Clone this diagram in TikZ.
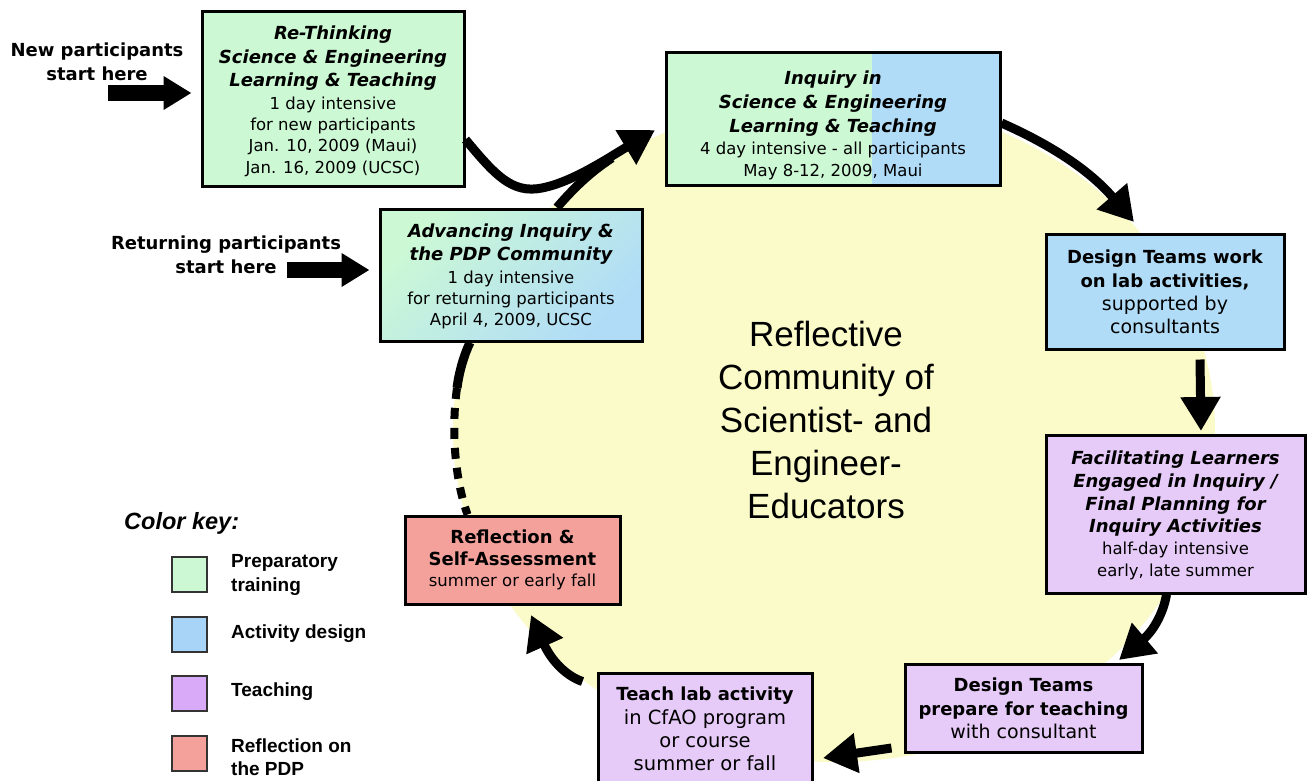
\documentclass[tikz,border=0pt]{standalone}
\usepackage{fontspec}
\setmainfont{Liberation Sans}
\newfontfamily\bxf{DejaVu Sans}
\usetikzlibrary{arrows.meta}
\definecolor{kgreen}{HTML}{CCF9D4}
\definecolor{kblue}{HTML}{B0DCF8}
\definecolor{kpurple}{HTML}{E6CAF8}
\definecolor{kred}{HTML}{F4A19C}
\definecolor{kyellow}{HTML}{FAFBC8}
\definecolor{lgreen}{HTML}{CCF9D4}
\definecolor{lblue}{HTML}{A8D4F8}
\definecolor{lpurple}{HTML}{D8AAF8}
\definecolor{lred}{HTML}{F4A19C}
\newcommand{\hd}[1]{{\bfseries\itshape\fontsize{18}{23}\selectfont #1}}
\newcommand{\hb}[1]{{\bfseries\fontsize{18}{23}\selectfont #1}}
\begin{document}
\begin{tikzpicture}[x=1pt,y=-1pt,
  box/.style={draw=black, line width=3pt, inner sep=0pt, align=center,
    font=\bxf\fontsize{16.5}{21.3}\selectfont},
  bigtxt/.style={font=\bxf\fontsize{19}{23}\selectfont},
  flow/.style={line width=9pt, -{Triangle[length=34pt,width=38pt]}},
  plainflow/.style={line width=9pt},
  dashflow/.style={line width=8pt, dash pattern=on 11pt off 9pt},
  blockarrow/.style={line width=16pt, -{Triangle[length=28pt,width=32pt]}},
  startlbl/.style={font=\bxf\bfseries\fontsize{18}{24}\selectfont, align=center},
  keysq/.style={draw=black!80, line width=2pt, minimum size=35pt, inner sep=0pt},
  keytxt/.style={font=\bfseries\fontsize{19}{23.5}\selectfont, align=left, anchor=west, inner sep=0pt},
]
\clip (0,0) rectangle (1307,780);
\fill[white] (0,0) rectangle (1307,780);
% background community circle
\fill[kyellow] (834,430) ellipse [x radius=381pt, y radius=332pt];
\node[font=\fontsize{35}{43}\selectfont, align=center] (ctr) at (826,420)
  {Reflective\\Community of\\Scientist- and\\Engineer-\\Educators};

% boxes
\node[box, fill=kgreen, minimum width=262pt, minimum height=175pt] (rt) at (333,98.5)
  {\rule{0pt}{19pt}\hd{Re-Thinking}\\[2.5pt]\hd{Science \& Engineering}\\[2pt]\hd{Learning \& Teaching}\\[1.5pt]
   1 day intensive\\for new participants\\Jan. 10, 2009 (Maui)\\Jan. 16, 2009 (UCSC)};
\node[box, minimum width=334pt, minimum height=133pt,
  path picture={\fill[kgreen] (path picture bounding box.south west) rectangle ([xshift=39pt]path picture bounding box.north);
                \fill[kblue] ([xshift=39pt]path picture bounding box.south) rectangle (path picture bounding box.north east);}]
  (inq) at (833,118.5)
  {\rule{0pt}{27pt}\hd{Inquiry in}\\[2.5pt]\hd{Science \& Engineering}\\[2.5pt]\hd{Learning \& Teaching}\\[1.5pt]
   4 day intensive - all participants\\May 8-12, 2009, Maui};
\node[box, top color=kgreen, bottom color=kblue, shading angle=45,
  minimum width=262pt, minimum height=132pt] (adv) at (511,275)
  {\rule{0pt}{17pt}\hd{Advancing Inquiry \&}\\[2pt]\hd{the PDP Community}\\[1pt]
   1 day intensive\\for returning participants\\April 4, 2009, UCSC};
\node[box, fill=kblue, minimum width=238pt, minimum height=115pt, bigtxt] (dtw) at (1165,291.5)
  {\hb{Design Teams work}\\[1pt]\hb{on lab activities,}\\supported by\\consultants};
\node[box, fill=kpurple, minimum width=259pt, minimum height=158pt] (fac) at (1175.5,514)
  {\rule{0pt}{16pt}\hd{Facilitating Learners}\\[1.5pt]\hd{Engaged in Inquiry /}\\[1.5pt]\hd{Final Planning for}\\[1.5pt]\hd{Inquiry Activities}\\[0.5pt]
   half-day intensive\\early, late summer};
\node[box, fill=kpurple, minimum width=237pt, minimum height=88pt, bigtxt] (dtp) at (1023.5,708)
  {\hb{Design Teams}\\[1pt]\hb{prepare for teaching}\\with consultant};
\node[box, fill=kpurple, minimum width=214pt, minimum height=112pt, font=\bxf\fontsize{19.5}{23}\selectfont] (tch) at (705,729)
  {\hb{Teach lab activity}\\[1.5pt]in CfAO program\\or course\\summer or fall};
\node[box, fill=kred, minimum width=215pt, minimum height=88pt] (rfl) at (512.5,560)
  {\hb{Reflection \&}\\[1pt]\hb{Self-Assessment}\\summer or early fall};

% cycle connectors
\coordinate (t1) at (655,130);
\draw[flow] ([yshift=-41pt]rt.east) .. controls (495,175) and (512,194) .. (542,188)
   .. controls (572,182) and (605,160) .. (t1);
\coordinate (m1) at (612,158);
\draw[plainflow] ([xshift=46pt]adv.north) .. controls (572,190) and (590,172) .. (m1);
\coordinate (t2) at (1134,222);
\draw[flow] ([yshift=-4.5pt]inq.east) .. controls (1040,140) and (1085,165) .. (t2);
\coordinate (t3) at (1201,431);
\draw[flow] ([xshift=35pt,yshift=-9pt]dtw.south) -- (t3);
\coordinate (t4) at (1119,660);
\draw[flow] ([xshift=-9pt]fac.south) .. controls (1163,615) and (1152,632) .. (t4);
\coordinate (t5) at (823,758);
\draw[flow] ([xshift=-12pt,yshift=-40pt]dtp.west) -- (t5);
\coordinate (t6) at (531,615);
\draw[flow] ([xshift=-14pt,yshift=-10pt]tch.north west) .. controls (566,676) and (551,660) .. (t6);
\coordinate (j7) at (457,388);
\draw[plainflow] ([xshift=-41pt]adv.south) .. controls (464,355) and (459,372) .. (j7);
\draw[dashflow] (j7) .. controls (451,430) and (455,480) .. ([xshift=-45pt]rfl.north);

% entry arrows
\node[startlbl] (newl) at (97,62) {New participants\\start here};
\coordinate (s1) at (108,93);
\draw[blockarrow] (s1) -- ([xshift=-9pt,yshift=5.5pt]rt.west);
\node[startlbl] (retl) at (226,255) {Returning participants\\start here};
\coordinate (s2) at (287,270);
\draw[blockarrow] (s2) -- ([xshift=-9pt,yshift=5pt]adv.west);

% colour key
\node[font=\bfseries\itshape\fontsize{23.5}{28}\selectfont, anchor=west, inner sep=0pt] (ck) at (124,523) {Color key:};
\node[keysq, fill=lgreen] (k1) at (189.5,574.5) {};
\node[keysq, fill=lblue] (k2) at (189.5,634) {};
\node[keysq, fill=lpurple] (k3) at (189.5,693.5) {};
\node[keysq, fill=lred] (k4) at (189.5,753.5) {};
\node[keytxt] (l1) at (231,575) {Preparatory\\training};
\node[keytxt] (l2) at (231,634) {Activity design};
\node[keytxt] (l3) at (231,692) {Teaching};
\node[keytxt] (l4) at (231,757) {Reflection on\\the PDP};
\end{tikzpicture}
\end{document}
